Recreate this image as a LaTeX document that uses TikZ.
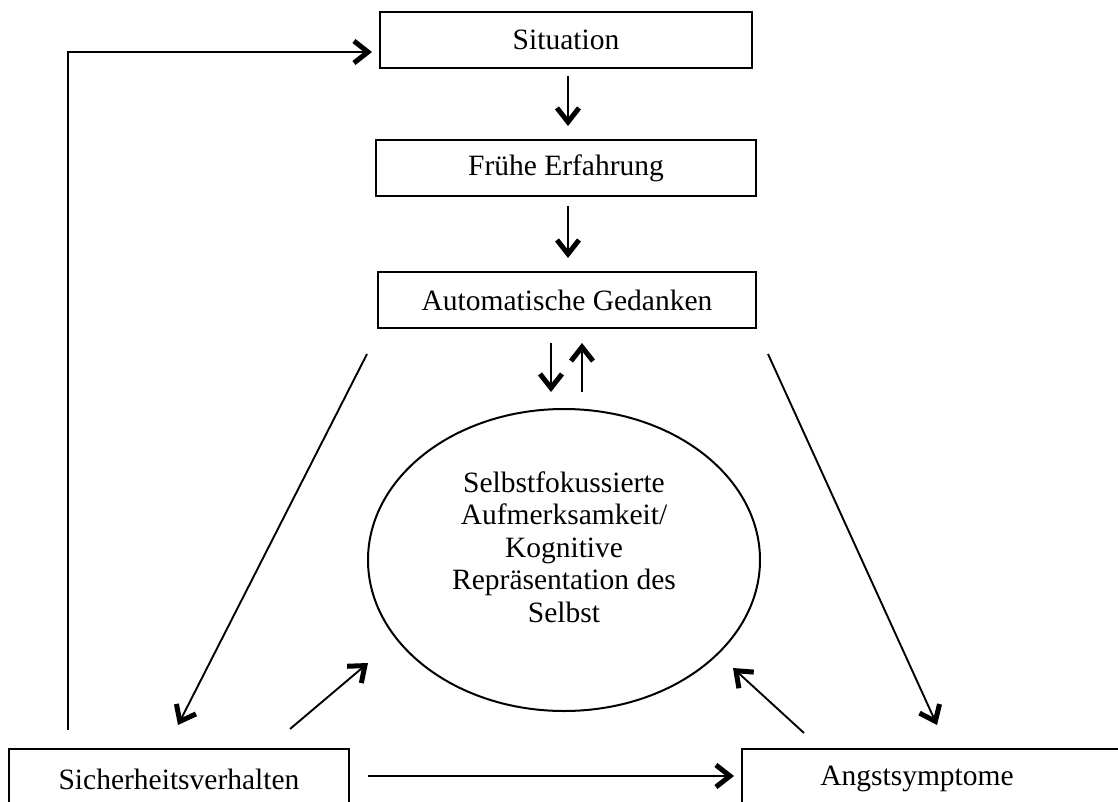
\documentclass[tikz,border=0pt]{standalone}
\usepackage{fontspec}
\setmainfont{Liberation Serif}
\usetikzlibrary{calc,arrows.meta,shapes.geometric}

\tikzset{
  box/.style={draw, line width=2pt, rectangle, inner sep=0pt,
    font=\fontsize{29.5}{32.5}\selectfont},
  arr/.style={line width=1.9pt,
    -{Straight Barb[length=14pt,width=22pt,line width=5pt]}},
}

\begin{document}
\begin{tikzpicture}[x=1pt,y=-1pt]
			%%%%% START %%%%%
			\useasboundingbox (0,0) rectangle (1118,802);
			\clip (0,0) rectangle (1118,802);
			
			\node[box, minimum width=372, minimum height=56] (sit) at (566,40) {Situation};
			\node[box, minimum width=380, minimum height=56] (fruehe) at (566,168) {Frühe Erfahrung};
			\node[box, minimum width=378, minimum height=56] (auto) at (567,300) {Automatische Gedanken};
			
			\node[box, ellipse, minimum width=392, minimum height=302, align=center] (selbst) at (564,560)
			  {\raisebox{3pt}[0pt][0pt]{\begin{tabular}{@{}c@{}}Selbstfokussierte\\Aufmerksamkeit/\\Kognitive\\Repräsentation des\\Selbst\end{tabular}}};
			
			\node[box, minimum width=340, minimum height=60] (sicher) at (179,779) {Sicherheitsverhalten};
			\node[box, minimum width=388, minimum height=60] (angst) at (936,779) {\hspace*{-38pt}Angstsymptome};
			
			% top chain
			\draw[arr] ($(sit.south)+(2,7)$) -- ($(fruehe.north)+(2,-13)$);
			\draw[arr] ($(fruehe.south)+(2,9)$) -- ($(auto.south)+(1,-71)$);
			\draw[arr] ($(auto.south)+(-16,14)$) -- ($(selbst.north)+(-13,-16)$);
			\draw[arr] ($(selbst.north)+(18,-16)$) -- ($(auto.south)+(15,14)$);
			
			% sides
			\draw[arr] ($(auto.south west)+(-10,25)$) -- ($(sicher.north)+(-1,-23)$);
			\draw[arr] ($(auto.south east)+(11,25)$) -- ($(angst.north)+(1,-23)$);
			\draw[arr] ($(sicher.north east)+(-60,-19)$) -- ($(selbst.center)+(-196,103)$);
			\draw[arr] ($(angst.north west)+(63,-15)$) -- ($(selbst.center)+(169,108)$);
			
			% bottom and feedback
			\draw[arr] ($(sicher.east)+(18,-3)$) -- ($(angst.west)+(-7,-3)$);
			\draw[arr] ($(sicher.north west)+(60,-18)$) |- ($(sit.west)+(-7,12)$);
			%%%%% END %%%%%
\end{tikzpicture}
\end{document}
